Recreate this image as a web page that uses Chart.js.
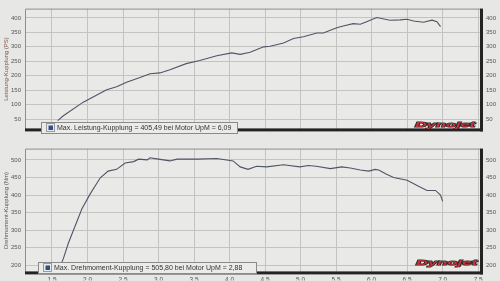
<!DOCTYPE html>
<html><head><meta charset="utf-8">
<script src="https://cdn.jsdelivr.net/npm/chart.js@4.4.1/dist/chart.umd.min.js"></script>
<style>
html,body{margin:0;padding:0;background:#e7e7e5;}
#wrap{position:relative;width:500px;height:281px;overflow:hidden;background:#e7e7e5;}
.pane{position:absolute;left:0;width:500px;}
</style></head><body>
<div id="wrap">
<div class="pane" style="top:0;height:138px"><canvas id="c1" width="500" height="138"></canvas></div>
<div class="pane" style="top:140px;height:141px"><canvas id="c2" width="500" height="141"></canvas></div>
</div>
<script>
// ---- data (RPM x1000) ----
const powerRpm = [1.58, 1.66, 1.94, 2.27, 2.41, 2.55, 2.74, 2.88, 3.02, 3.16, 3.39, 3.58, 3.82, 4.03, 4.15, 4.29, 4.48, 4.57, 4.76, 4.90, 5.04, 5.23, 5.32, 5.51, 5.60, 5.74, 5.84, 5.93, 6.07, 6.26, 6.40, 6.50, 6.59, 6.73, 6.85, 6.92, 6.97];
const powerPs  = [45, 62, 109, 152, 162, 178, 194, 207, 210, 221, 242, 253, 269, 279, 274, 281, 300, 302, 313, 329, 335, 348, 348, 366, 372, 380, 378, 387, 401, 392, 393, 395, 389, 385, 392, 387, 370];

const torqueRpm = [1.60, 1.66, 1.73, 1.92, 2.04, 2.18, 2.29, 2.41, 2.53, 2.65, 2.72, 2.84, 2.88, 3.00, 3.16, 3.26, 3.54, 3.82, 4.05, 4.15, 4.26, 4.38, 4.52, 4.76, 4.99, 5.11, 5.22, 5.42, 5.58, 5.70, 5.84, 5.96, 6.05, 6.10, 6.21, 6.31, 6.50, 6.64, 6.78, 6.90, 6.97, 7.00];
const torqueNm  = [190, 219, 263, 360, 404, 449, 468, 473, 491, 495, 502, 500, 506, 502, 497, 502, 502, 504, 497, 480, 473, 482, 480, 486, 480, 484, 482, 475, 480, 477, 471, 468, 473, 471, 459, 450, 442, 427, 413, 413, 400, 382];

const xTickValues = [1.5, 2.0, 2.5, 3.0, 3.5, 4.0, 4.5, 5.0, 5.5, 6.0, 6.5, 7.0, 7.5];
const xTickLabels = ['1,5','2,0','2,5','3,0','3,5','4,0','4,5','5,0','5,5','6,0','6,5','7,0','7,5'];
const powerTicks  = [50, 100, 150, 200, 250, 300, 350, 400];
const torqueTicks = [200, 250, 300, 350, 400, 450, 500];

const powerTitle  = 'Leistung-Kupplung (PS)';
const torqueTitle = 'Drehmoment-Kupplung (Nm)';
const powerLegend  = 'Max. Leistung-Kupplung = 405,49 bei Motor UpM = 6,09';
const torqueLegend = 'Max. Drehmoment-Kupplung = 505,80 bei Motor UpM = 2,88';
const logoText = 'Dynojet';

// ---- styling / drawing ----
const FONT = "'Liberation Sans', Arial, sans-serif";
const gridColor = '#c3c3c1';
const lineColor = '#4f5565';

const decor = {
  id: 'decor',
  beforeDraw(chart) {
    const {ctx, chartArea: a} = chart;
    ctx.save();
    ctx.fillStyle = '#e9e9e7';
    ctx.fillRect(a.left, a.top, a.right - a.left, a.bottom - a.top);
    ctx.restore();
  },
  afterDraw(chart, args, o) {
    const {ctx, chartArea: a} = chart;
    ctx.save();
    // thin top/left border
    ctx.strokeStyle = '#8e8e8e'; ctx.lineWidth = 1;
    ctx.beginPath();
    ctx.moveTo(a.left + 0.5, a.bottom); ctx.lineTo(a.left + 0.5, a.top + 0.5); ctx.lineTo(a.right, a.top + 0.5);
    ctx.stroke();
    // thick bottom/right border
    ctx.fillStyle = '#232323';
    ctx.fillRect(a.left, a.bottom - 1, a.right - a.left + 2, 3);
    ctx.fillRect(a.right - 1, a.top, 3, a.bottom - a.top + 2);
    // legend box
    const b = o.box;
    ctx.fillStyle = '#ebebe9';
    ctx.fillRect(b.x, b.y, b.w, b.h);
    ctx.strokeStyle = '#8a8a8a';
    ctx.strokeRect(b.x + 0.5, b.y + 0.5, b.w, b.h);
    ctx.strokeStyle = '#9a9a9a';
    ctx.strokeRect(b.x + 5.5, b.y + 1.5, 8, 8);
    ctx.fillStyle = '#2c4f8f';
    ctx.fillRect(b.x + 7.5, b.y + 3.5, 4.5, 4.5);
    ctx.fillStyle = '#333';
    ctx.font = '7px ' + FONT;
    ctx.textBaseline = 'middle';
    ctx.fillText(o.text, b.x + 16, b.y + b.h / 2 + 0.5);
    // logo
    const L = o.logo;
    ctx.font = 'italic bold 9px ' + FONT;
    const w = ctx.measureText(logoText).width;
    ctx.save();
    ctx.translate(L.x, L.y);
    ctx.scale(L.w / w, 0.9);
    ctx.lineWidth = 1.3; ctx.strokeStyle = '#2a2a2a';
    ctx.textBaseline = 'alphabetic';
    ctx.strokeText(logoText, 0, 0);
    ctx.fillStyle = '#c8323a';
    ctx.fillText(logoText, 0, 0);
    ctx.restore();
    ctx.restore();
  }
};

function makeChart(id, cfg) {
  return new Chart(document.getElementById(id), {
    type: 'line',
    data: { datasets: [{
      data: cfg.xs.map((x, i) => ({x, y: cfg.ys[i]})),
      borderColor: lineColor, borderWidth: 1.1, pointRadius: 0, tension: 0, fill: false
    }]},
    plugins: [decor],
    options: {
      responsive: false, animation: false, events: [],
      layout: { padding: { top: cfg.padTop, left: 0, right: 0, bottom: 0 } },
      plugins: { legend: {display: false}, tooltip: {enabled: false},
        decor: { box: cfg.box, text: cfg.legend, logo: cfg.logo } },
      scales: {
        x: { type: 'linear', min: 1.12, max: 7.54,
          afterFit: s => { s.height = cfg.xHeight; },
          afterBuildTicks: s => { s.ticks = xTickValues.map(v => ({value: v})); },
          ticks: { display: cfg.showX, padding: 4, color: '#555', font: {size: 6.5, family: FONT},
            maxRotation: 0, autoSkip: false,
            callback: (v) => xTickLabels[xTickValues.indexOf(v)] },
          grid: { color: gridColor, drawTicks: false, lineWidth: 1 },
          border: { display: false } },
        y: { type: 'linear', position: 'left', min: cfg.ymin, max: cfg.ymax,
          afterFit: s => { s.width = 25; },
          afterBuildTicks: s => { s.ticks = cfg.yTicks.map(v => ({value: v})); },
          ticks: { padding: 4, color: '#555', font: {size: 6, family: FONT} },
          grid: { color: gridColor, drawTicks: false, lineWidth: 1 },
          border: { display: false },
          title: { display: true, text: cfg.title, color: cfg.titleColor, font: {size: 6, family: FONT}, padding: {top: 3, bottom: 0} } },
        y2: { type: 'linear', position: 'right', min: cfg.ymin, max: cfg.ymax,
          afterFit: s => { s.width = 19; },
          afterBuildTicks: s => { s.ticks = cfg.yTicks.map(v => ({value: v})); },
          ticks: { padding: 5, color: '#555', font: {size: 6, family: FONT} },
          grid: { display: false, drawTicks: false },
          border: { display: false } }
      }
    }
  });
}

makeChart('c1', {
  xs: powerRpm, ys: powerPs, ymin: 15, ymax: 432, yTicks: powerTicks,
  padTop: 2, xHeight: 5, showX: false,
  title: powerTitle, titleColor: '#7d5a48', legend: powerLegend,
  box: {x: 41, y: 122, w: 196, h: 11},
  logo: {x: 415, y: 127, w: 60}
});
makeChart('c2', {
  xs: torqueRpm, ys: torqueNm, ymin: 180, ymax: 532, yTicks: torqueTicks,
  padTop: 1, xHeight: 8, showX: true,
  title: torqueTitle, titleColor: '#5e5550', legend: torqueLegend,
  box: {x: 38, y: 122, w: 218, h: 11},
  logo: {x: 416, y: 125, w: 61}
});
</script>
</body></html>
